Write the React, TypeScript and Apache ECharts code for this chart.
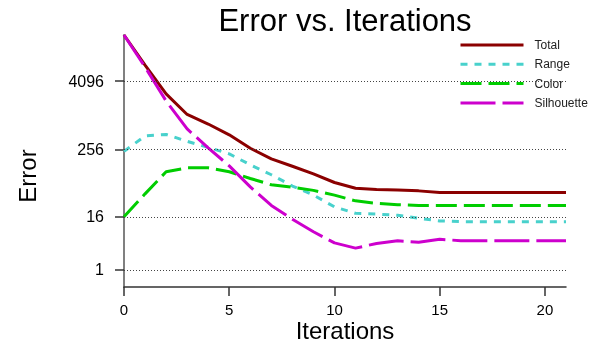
import React, { useEffect, useRef } from "react";
import * as echarts from "echarts";

const iterations = [0, 1, 2, 3, 4, 5, 6, 7, 8, 9, 10, 11, 12, 13, 14, 15, 16, 17, 18, 19, 20, 21];
const totalErr = [26250, 7800, 2430, 1060, 720, 465, 270, 176, 130, 95, 67, 53, 50.5, 49, 47.5, 44.5, 44.3, 44.3, 44.3, 44.3, 44.3, 44.3];
const rangeErr = [238, 445, 473, 357, 280, 215, 138, 92, 58, 40, 24.4, 18.6, 18, 17.1, 15, 13.4, 13, 13, 13, 13, 13, 13];
const colorErr = [16, 42, 104, 122, 122, 104, 79, 61, 55, 48.5, 39.8, 31.4, 28.3, 26.8, 26, 26, 26, 26, 26, 26, 26, 26];
const silhouetteErr = [26250, 7220, 1830, 591, 274, 132, 56, 26, 14.4, 8.3, 4.95, 3.8, 4.8, 5.45, 5.1, 5.85, 5.5, 5.5, 5.5, 5.5, 5.5, 5.5];
const yTickValues = [1, 16, 256, 4096];
const xTickValues = [0, 5, 10, 15, 20];
const seriesNames = ["Total", "Range", "Color", "Silhouette"];

const FONT = "'Liberation Sans', Arial, sans-serif";
const tf = (v: number) => Math.log2(v + 1);

export default function App() {
  const ref = useRef<HTMLDivElement>(null);
  useEffect(() => {
    if (!ref.current) return;
    const chart = echarts.init(ref.current, null, { renderer: "svg" });
    const mk = (vals: number[]) => iterations.map((x, i) => [x, tf(vals[i])]);
    const styles = [
      { color: "#8B0000", type: "solid" as any },
      { color: "#48D1CC", type: [7, 7] },
      { color: "#00CD00", type: [21, 7] },
      { color: "#CD00CD", type: [35, 7] },
    ];
    const datas = [totalErr, rangeErr, colorErr, silhouetteErr];
    chart.setOption({
      animation: false,
      title: {
        text: "Error vs. Iterations",
        left: 345,
        top: 5,
        padding: 0,
        textAlign: "center",
        textStyle: { fontFamily: FONT, fontSize: 31, fontWeight: "normal", color: "#000" },
      },
      legend: {
        data: seriesNames,
        orient: "vertical",
        left: 459,
        top: 39,
        padding: 0,
        itemWidth: 63,
        itemHeight: 14,
        itemGap: 7.3,
        itemStyle: { color: "rgba(0,0,0,0)", borderWidth: 0 },
        lineStyle: { width: 3 },
        textStyle: { fontFamily: FONT, fontSize: 12, color: "#222", padding: [0, 0, 0, 6] },
      },
      grid: { left: 124, right: 36, top: 35, bottom: 58, containLabel: false, outerBoundsMode: "none" },
      xAxis: {
        type: "value",
        min: 0,
        max: 21,
        interval: 5,
        name: "Iterations",
        nameLocation: "middle",
        nameGap: 31,
        nameMoveOverlap: false,
        nameTextStyle: { fontFamily: FONT, fontSize: 24, color: "#000" },
        axisLine: { show: true, lineStyle: { color: "#333", width: 1.5 } },
        axisTick: { show: true, length: 9, lineStyle: { color: "#333", width: 1.5 }, customValues: xTickValues },
        axisLabel: { fontFamily: FONT, fontSize: 15, color: "#000", margin: 15, customValues: xTickValues },
        splitLine: { show: false },
      },
      yAxis: {
        type: "value",
        min: 0,
        max: "dataMax",
        axisLine: { show: true, lineStyle: { color: "#808080", width: 2 } },
        axisTick: { show: true, length: 9, lineStyle: { color: "#333", width: 1.5 }, customValues: yTickValues.map(tf) },
        axisLabel: {
          fontFamily: FONT,
          fontSize: 16,
          color: "#000",
          margin: 20,
          customValues: yTickValues.map(tf),
          formatter: (v: number) => String(Math.round(Math.pow(2, v) - 1)),
        },
        splitLine: { show: false },
      },
      graphic: [
        {
          type: "text",
          x: 27,
          y: 176,
          rotation: Math.PI / 2,
          style: {
            text: "Error",
            font: `24px ${FONT}`,
            fill: "#000",
            textAlign: "center",
            textVerticalAlign: "middle",
          },
        },
      ],
      series: [
        {
          name: "grid",
          type: "line",
          data: [],
          z: 1,
          silent: true,
          markLine: {
            silent: true,
            symbol: ["none", "none"],
            label: { show: false },
            lineStyle: { color: "#444", width: 1, type: [1, 2] },
            data: yTickValues.map((v) => ({ yAxis: tf(v) })),
          },
        },
        ...seriesNames.map((name, k) => ({
          name,
          type: "line",
          data: mk(datas[k]),
          symbol: "none",
          z: 2,
          itemStyle: { color: styles[k].color },
          lineStyle: { color: styles[k].color, width: 3, type: styles[k].type },
        })),
      ],
    });
    return () => chart.dispose();
  }, []);
  return <div ref={ref} style={{ position: "fixed", left: 0, top: 0, width: 602, height: 345 }} />;
}
